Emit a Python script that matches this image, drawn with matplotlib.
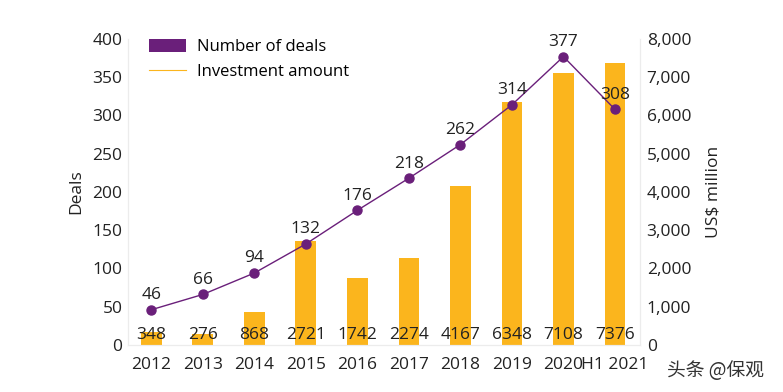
import matplotlib.pyplot as plt
from matplotlib.patches import Patch
from matplotlib.lines import Line2D

# data
years = ['2012', '2013', '2014', '2015', '2016', '2017', '2018', '2019', '2020', 'H1 2021']
deals = [46, 66, 94, 132, 176, 218, 262, 314, 377, 308]
investment = [348, 276, 868, 2721, 1742, 2274, 4167, 6348, 7108, 7376]

PURPLE = '#6a1f7a'
YELLOW = '#fbb51d'
SPINE = '#ececec'

plt.rcParams['font.family'] = ['Open Sans', 'DejaVu Sans']

fig = plt.figure(figsize=(7.83, 3.92), dpi=100)
ax = fig.add_axes([0.1635, 0.12, 0.6535, 0.7805])   # deals (left)
ax2 = ax.twinx()                                     # investment (right)

x = list(range(len(years)))

# bars on the right axis
ax2.bar(x, investment, width=0.4, color=YELLOW, zorder=1)
for i, v in enumerate(investment):
    ax2.annotate(str(v), (i, 0), xytext=(0, 7), textcoords='offset points',
                 ha='center', va='center', fontsize=12.5, color='#222222')

# line on the left axis, drawn above the bars
ax.set_zorder(ax2.get_zorder() + 1)
ax.patch.set_visible(False)
ax.plot(x, deals, color=PURPLE, lw=1, marker='o', markersize=6.5, zorder=3)
for i, v in enumerate(deals):
    ax.annotate(str(v), (i, v), xytext=(0, 10.5), textcoords='offset points',
                ha='center', va='center', fontsize=12.5, color='#222222')

ax.set_xlim(-0.45, 9.48)
ax.set_ylim(0, 400)
ax2.set_ylim(0, 8000)
ax.set_yticks(range(0, 401, 50))
ax2.set_yticks(range(0, 8001, 1000))
ax2.set_yticklabels([f'{t:,}' for t in range(0, 8001, 1000)])
ax.set_xticks(x)
ax.set_xticklabels(years)

for a in (ax, ax2):
    a.tick_params(length=0, labelsize=12.5, colors='#222222')
    a.spines['top'].set_visible(False)
    for s in ('left', 'right', 'bottom'):
        a.spines[s].set_color(SPINE)
        a.spines[s].set_linewidth(0.8)
ax.tick_params(axis='y', pad=4)
ax.tick_params(axis='x', pad=9)
ax2.tick_params(axis='y', pad=5)

ax.set_ylabel('Deals', fontsize=12.5, color='#222222', labelpad=6)
ax2.set_ylabel('US$ million', fontsize=12.5, color='#222222', labelpad=10)

# legend handles are swapped in the original
handles = [Patch(facecolor=PURPLE, edgecolor='none'),
           Line2D([0], [0], color=YELLOW, lw=0.8)]
ax.legend(handles, ['Number of deals', 'Investment amount'], loc='upper left',
          bbox_to_anchor=(0.012, 1.048), frameon=False, fontsize=12,
          handlelength=2.2, handleheight=0.8, labelspacing=0.5,
          handletextpad=0.7)

fig.text(0.852, 0.055, '头条 @保观', fontsize=13.5, color='#333333',
         family=['Noto Sans CJK SC', 'DejaVu Sans'], ha='left', va='center')

fig.savefig('out.png', dpi=100)
